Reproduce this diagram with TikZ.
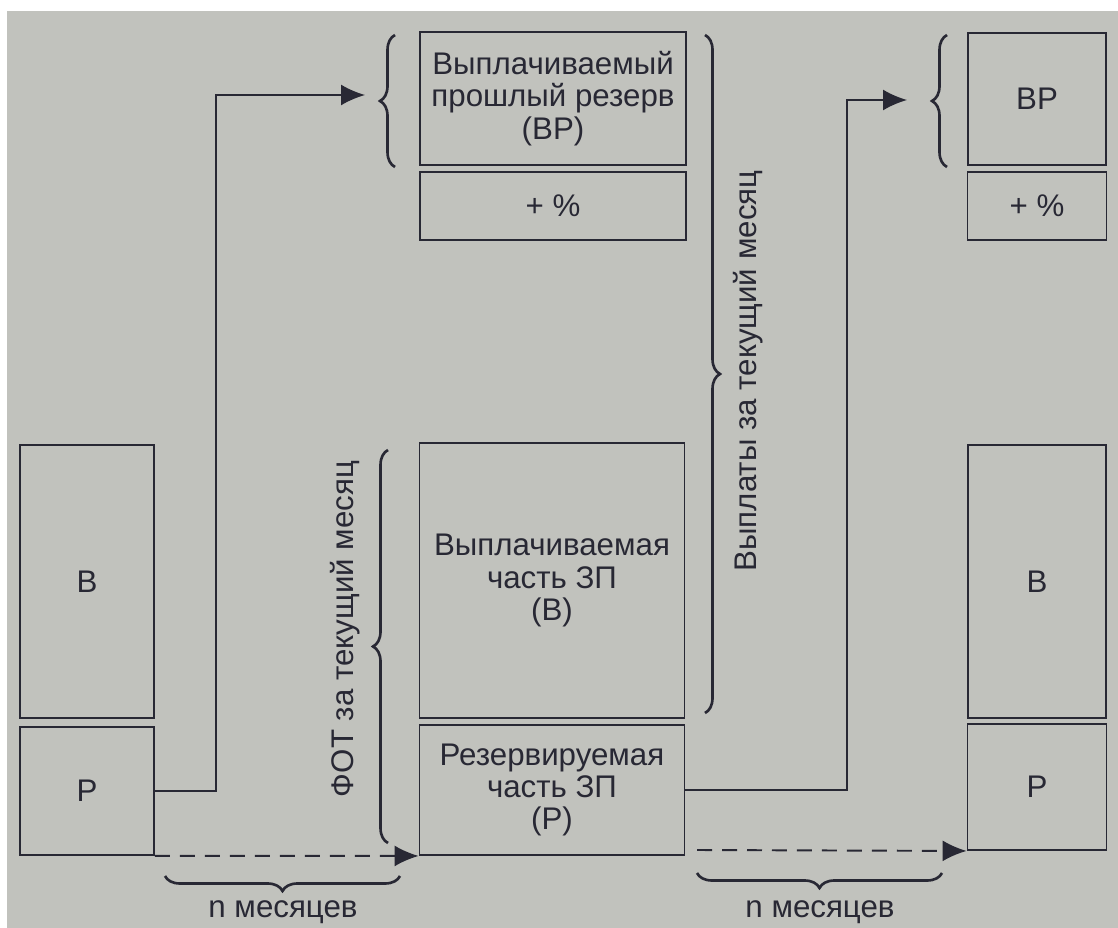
\documentclass[tikz,border=0pt]{standalone}
\usepackage{fontspec}
\setmainfont{Liberation Sans}
\usetikzlibrary{arrows.meta,decorations.pathreplacing}
\definecolor{paper}{RGB}{193,194,189}
\definecolor{ink}{RGB}{40,40,52}
\newcommand\diagfont{\fontsize{17.8}{18.4}\selectfont}
\begin{document}
\begin{tikzpicture}[x=0.02cm, y=-0.02cm, >={Latex[length=0.48cm,width=0.42cm]},
	cell/.style={draw=ink, line width=1.1pt, inner sep=0pt, align=center, font=\diagfont, text=ink},
	txt/.style={font=\diagfont, text=ink, inner sep=0pt},
	link/.style={draw=ink, line width=1.1pt},
	brc/.style={draw=ink, line width=1.5pt, decorate, decoration={brace, amplitude=0.3cm}}]
\useasboundingbox (0,0) rectangle (1118,928);
\fill[white] (0,0) rectangle (1118,928);
\fill[paper] (7,11) rectangle (1118,928);
% left column
\node[cell, minimum width=2.68cm, minimum height=5.46cm] (lb) at (87,581.5) {В};
\node[cell, minimum width=2.68cm, minimum height=2.56cm] (lp) at (87,791) {Р};
% middle column
\node[cell, minimum width=5.32cm, minimum height=2.66cm] (mvr) at (553,98.5) {Выплачиваемый\\прошлый резерв\\(ВР)};
\node[cell, minimum width=5.32cm, minimum height=1.36cm] (mpc) at (553,206) {+ \%};
\node[cell, minimum width=5.3cm, minimum height=5.5cm] (mb) at (552,580.5) {Выплачиваемая\\часть ЗП\\(В)};
\node[cell, minimum width=5.3cm, minimum height=2.6cm] (mp) at (552,790) {Резервируемая\\часть ЗП\\(Р)};
% right column
\node[cell, minimum width=2.76cm, minimum height=2.64cm] (rvr) at (1037,99) {ВР};
\node[cell, minimum width=2.78cm, minimum height=1.36cm] (rpc) at (1037,206) {+ \%};
\node[cell, minimum width=2.76cm, minimum height=5.46cm] (rb) at (1037,581.5) {В};
\node[cell, minimum width=2.78cm, minimum height=2.52cm] (rp) at (1037,787) {Р};
% arrows
\coordinate (a1) at (365,95);
\coordinate (a2) at (907,100);
\coordinate (d2) at (697,850);
\draw[link,->] (lp.east) -- ++(61,0) |- (a1);
\draw[link,->] (mp.east) -- ++(162,0) |- (a2);
\draw[link,->,dash pattern=on 0.3cm off 0.2cm] (lp.south east) -- (mp.south west);
\draw[link,->,dash pattern=on 0.3cm off 0.2cm] (d2) -- (rp.south west);
% braces
\draw[brc] (395,167) -- (395,35);
\draw[brc] (947,167) -- (947,35);
\draw[brc] (388,843) -- (388,450);
\draw[brc] (705,35) -- (705,713);
\draw[brc] (400,876) -- (165,876);
\draw[brc] (942,873) -- (697,873);
% labels
\node[txt, rotate=90] (fot) at (345,629) {ФОТ за текущий месяц};
\node[txt, rotate=90] (vyp) at (748,371) {Выплаты за текущий месяц};
\node[txt] (nl) at (283,912) {n месяцев};
\node[txt] (nr) at (820,912) {n месяцев};
\end{tikzpicture}
\end{document}
